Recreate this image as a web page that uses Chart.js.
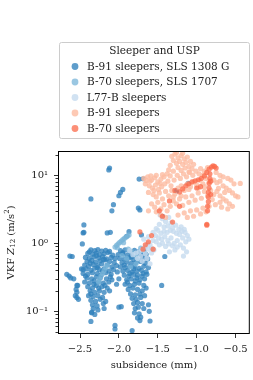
<!DOCTYPE html>
<html>
<head>
<meta charset="utf-8">
<script src="https://cdn.jsdelivr.net/npm/chart.js@4/dist/chart.umd.min.js"></script>
<style>
  html, body { margin: 0; padding: 0; background: #fff; }
</style>
</head>
<body>
<canvas id="myChart" width="253" height="380"></canvas>
<script>
const seriesLabels = [
  "B-91 sleepers, SLS 1308 G",
  "B-70 sleepers, SLS 1707",
  "L77-B sleepers",
  "B-91 sleepers",
  "B-70 sleepers",
];
const legendTitle = "Sleeper and USP";
const xTicks = [-2.5, -2.0, -1.5, -1.0, -0.5];
const yTicks = [0.1, 1, 10];

// [subsidence (mm), VKF Z12 (m/s2)]
const b91Sls = [
  [-2.12, 12.8], [-2.13, 12.0], [-2.36, 4.5], [-1.95, 6.2], [-1.98, 5.6], [-2.00, 5.0],
  [-2.07, 3.7], [-2.09, 3.0], [-1.74, 8.8], [-1.69, 8.9], [-1.73, 3.1], [-1.75, 3.3],
  [-2.45, 1.86], [-2.45, 1.45], [-2.46, 1.42], [-2.15, 1.42], [-2.47, 0.98], [-2.11, 1.45],
  [-1.87, 1.48], [-1.90, 1.27], [-1.71, 1.33], [-2.60, 0.64], [-2.63, 0.65], [-2.67, 0.35],
  [-2.64, 0.33], [-2.62, 0.31], [-2.58, 0.30], [-2.55, 0.21], [-2.56, 0.17], [-2.53, 0.24],
  [-2.52, 0.15], [-1.45, 0.24], [-1.41, 0.64],
  [-2.36, 0.071], [-2.05, 0.062], [-2.05, 0.055], [-1.83, 0.052], [-1.73, 0.073], [-1.60, 0.072],
  [-2.00, 0.115], [-1.97, 0.117], [-2.35, 0.097], [-2.54, 0.24], [-2.54, 0.19], [-2.54, 0.16],
  [-2.48, 0.42], [-2.46, 0.41], [-1.26, 5.9], [-1.44, 2.5], [-1.11, 7.6],
  [-2.36, 0.80], [-2.31, 0.78], [-2.27, 0.81], [-2.22, 0.77], [-2.17, 0.79], [-2.12, 0.76],
  [-2.40, 0.71], [-2.34, 0.69], [-2.29, 0.72], [-2.25, 0.68], [-2.19, 0.70], [-2.14, 0.73], [-2.08, 0.67],
  [-2.43, 0.62], [-2.38, 0.60], [-2.32, 0.63], [-2.26, 0.61], [-2.21, 0.64], [-2.16, 0.59], [-2.10, 0.62], [-2.05, 0.60],
  [-2.41, 0.54], [-2.35, 0.56], [-2.30, 0.53], [-2.24, 0.55], [-2.18, 0.57], [-2.12, 0.54], [-2.06, 0.52],
  [-2.44, 0.48], [-2.39, 0.46], [-2.33, 0.49], [-2.27, 0.47], [-2.22, 0.50], [-2.15, 0.48], [-2.09, 0.45], [-2.03, 0.47],
  [-2.42, 0.42], [-2.36, 0.40], [-2.31, 0.43], [-2.25, 0.41], [-2.19, 0.42], [-2.13, 0.39], [-2.07, 0.41],
  [-2.46, 0.36], [-2.40, 0.35], [-2.34, 0.37], [-2.28, 0.36], [-2.23, 0.34], [-2.17, 0.37], [-2.10, 0.35],
  [-2.41, 0.31], [-2.35, 0.30], [-2.29, 0.32], [-2.24, 0.31], [-2.16, 0.30], [-2.11, 0.32],
  [-2.44, 0.27], [-2.38, 0.26], [-2.32, 0.28], [-2.26, 0.27], [-2.20, 0.26], [-2.13, 0.27],
  [-2.40, 0.23], [-2.34, 0.22], [-2.29, 0.24], [-2.22, 0.23], [-2.15, 0.22],
  [-2.37, 0.20], [-2.31, 0.19], [-2.25, 0.20], [-2.19, 0.19], [-2.12, 0.20],
  [-2.39, 0.17], [-2.33, 0.165], [-2.27, 0.17], [-2.21, 0.16],
  [-2.36, 0.145], [-2.30, 0.14], [-2.24, 0.15], [-2.17, 0.14],
  [-2.34, 0.125], [-2.28, 0.12], [-2.20, 0.13],
  [-2.33, 0.11], [-2.27, 0.105], [-2.19, 0.11],
  [-2.35, 0.095], [-2.31, 0.09],
  [-2.38, 0.75], [-2.29, 0.66], [-2.20, 0.58], [-2.37, 0.51], [-2.28, 0.44], [-2.21, 0.39],
  [-2.43, 0.33], [-2.32, 0.25], [-2.26, 0.22], [-2.36, 0.18], [-2.18, 0.24], [-2.09, 0.29],
  [-2.02, 0.38], [-2.00, 0.30], [-2.03, 0.25],
  [-1.98, 0.78], [-1.92, 0.80], [-1.86, 0.77], [-1.80, 0.79], [-1.74, 0.76], [-1.68, 0.78],
  [-2.01, 0.68], [-1.95, 0.70], [-1.89, 0.67], [-1.83, 0.69], [-1.77, 0.68], [-1.71, 0.66], [-1.65, 0.69],
  [-1.99, 0.60], [-1.93, 0.59], [-1.87, 0.61], [-1.81, 0.58], [-1.75, 0.60], [-1.69, 0.61], [-1.63, 0.59],
  [-1.96, 0.52], [-1.90, 0.53], [-1.84, 0.51], [-1.78, 0.52], [-1.72, 0.54], [-1.66, 0.51],
  [-1.98, 0.45], [-1.92, 0.44], [-1.86, 0.46], [-1.80, 0.45], [-1.74, 0.43], [-1.68, 0.46], [-1.62, 0.44],
  [-1.95, 0.39], [-1.89, 0.40], [-1.83, 0.38], [-1.77, 0.39], [-1.71, 0.40], [-1.65, 0.38],
  [-1.93, 0.34], [-1.87, 0.33], [-1.81, 0.35], [-1.76, 0.34], [-1.70, 0.33], [-1.64, 0.35],
  [-1.90, 0.29], [-1.84, 0.30], [-1.79, 0.28], [-1.73, 0.29], [-1.67, 0.30],
  [-1.92, 0.25], [-1.86, 0.24], [-1.80, 0.25], [-1.74, 0.26], [-1.68, 0.24],
  [-1.88, 0.21], [-1.82, 0.22], [-1.76, 0.21], [-1.70, 0.20], [-1.65, 0.22],
  [-1.85, 0.18], [-1.79, 0.175], [-1.73, 0.18], [-1.67, 0.17],
  [-1.83, 0.155], [-1.78, 0.15], [-1.72, 0.16],
  [-1.81, 0.13], [-1.76, 0.135], [-1.70, 0.13], [-1.62, 0.125],
  [-1.79, 0.11], [-1.75, 0.115], [-1.68, 0.11],
  [-1.80, 0.095], [-1.74, 0.092], [-1.61, 0.10],
  [-1.76, 0.08], [-1.72, 0.082],
  [-1.95, 0.73], [-1.84, 0.63], [-1.72, 0.71], [-1.93, 0.48], [-1.81, 0.42], [-1.69, 0.36],
  [-1.86, 0.36], [-1.77, 0.31], [-1.89, 0.27],
];

const b70Sls = [
  [-2.05, 0.88], [-2.03, 0.93], [-2.01, 0.98], [-1.99, 1.03], [-1.97, 1.08], [-1.95, 1.13],
  [-1.93, 1.18], [-1.91, 1.23], [-1.89, 1.28], [-1.87, 1.33], [-2.02, 0.86], [-1.94, 1.02],
  [-2.26, 0.27], [-2.25, 0.30], [-2.23, 0.33], [-2.21, 0.36], [-2.19, 0.40], [-2.17, 0.44], [-2.15, 0.48],
  [-1.88, 0.82], [-1.84, 0.76], [-1.80, 0.70], [-1.77, 0.63], [-1.74, 0.58], [-1.90, 0.60],
  [-1.72, 0.85], [-1.68, 0.78], [-1.85, 0.45], [-1.78, 0.50], [-1.96, 0.66],
];

const l77b = [
  [-1.47, 2.6], [-1.44, 2.3], [-1.40, 2.1], [-1.36, 2.4], [-1.33, 2.0], [-1.48, 1.9],
  [-1.42, 1.75], [-1.37, 1.8], [-1.31, 1.7], [-1.27, 1.85], [-1.23, 1.6], [-1.19, 1.5],
  [-1.15, 1.45], [-1.12, 1.3], [-1.10, 1.15], [-1.14, 1.05], [-1.18, 1.2], [-1.22, 1.35],
  [-1.26, 1.4], [-1.30, 1.5], [-1.34, 1.55], [-1.38, 1.45], [-1.42, 1.5], [-1.46, 1.4],
  [-1.50, 1.55], [-1.53, 1.3], [-1.49, 1.2], [-1.45, 1.15], [-1.41, 1.25], [-1.37, 1.1],
  [-1.33, 1.2], [-1.29, 1.0], [-1.25, 1.1], [-1.21, 0.95], [-1.17, 0.85], [-1.13, 0.75],
  [-1.25, 0.88], [-1.31, 0.92], [-1.36, 0.98], [-1.40, 0.9], [-1.44, 1.0], [-1.48, 0.95],
  [-1.52, 1.05], [-1.56, 1.1], [-1.60, 0.95], [-1.63, 1.0], [-1.58, 0.85], [-1.55, 0.8],
  [-1.62, 0.82], [-1.66, 0.88], [-1.70, 0.8], [-1.74, 0.75], [-1.78, 0.72], [-1.82, 0.68],
  [-1.86, 0.78], [-1.72, 0.65], [-1.66, 0.7], [-1.58, 0.72], [-1.17, 0.65], [-1.35, 0.75],
  [-1.28, 0.8], [-1.20, 1.75], [-1.16, 1.6], [-1.52, 1.65], [-1.56, 1.45],
  [-1.64, 0.6], [-1.70, 0.55], [-1.60, 0.5], [-1.76, 0.6], [-1.68, 1.15], [-1.62, 1.25],
];

const b91 = [
  [-1.32, 19], [-1.28, 20.5], [-1.24, 18], [-1.20, 19.5], [-1.16, 17.5], [-1.12, 18.5],
  [-1.08, 16], [-1.30, 16.5], [-1.26, 15], [-1.22, 16], [-1.18, 14.5], [-1.14, 15.5],
  [-1.10, 13.5], [-1.34, 14], [-1.04, 14.5], [-1.06, 12.5], [-1.15, 12.8], [-1.24, 13], [-1.36, 12],
  [-1.26, 21.5], [-1.18, 21], [-1.30, 11.5], [-1.20, 11.8], [-1.10, 11.2],
  [-1.68, 9.0], [-1.63, 9.5], [-1.58, 8.5], [-1.54, 9.2], [-1.50, 8.0], [-1.46, 8.8],
  [-1.42, 9.5], [-1.38, 10.5], [-1.34, 9.8], [-1.66, 7.5], [-1.61, 7.0], [-1.57, 6.5],
  [-1.53, 7.2], [-1.49, 6.2], [-1.45, 6.8], [-1.41, 7.5], [-1.37, 8.2], [-1.33, 7.0],
  [-1.29, 8.5], [-1.25, 10.0], [-1.21, 9.0], [-1.17, 10.5], [-1.13, 9.5], [-1.09, 11],
  [-1.05, 10], [-1.01, 11.5], [-0.97, 10.5],
  [-1.56, 5.2], [-1.52, 4.8], [-1.48, 5.5], [-1.44, 4.5], [-1.40, 5.8], [-1.36, 5.0],
  [-1.32, 6.0], [-1.28, 5.3], [-1.24, 6.5], [-1.20, 7.0], [-1.16, 6.0], [-1.12, 7.5],
  [-1.08, 6.8], [-1.04, 8.0], [-1.00, 7.2], [-0.96, 8.5], [-0.92, 7.5], [-0.88, 9.0],
  [-0.84, 8.0], [-0.78, 8.5], [-0.74, 7.8], [-0.70, 8.2], [-0.66, 7.0], [-0.62, 6.5],
  [-0.58, 6.0], [-0.54, 5.5], [-0.50, 5.0], [-0.47, 4.8], [-0.44, 7.6],
  [-1.58, 3.8], [-1.54, 3.4], [-1.50, 4.0], [-1.46, 3.2], [-1.42, 3.7], [-1.38, 3.0],
  [-1.34, 3.5], [-1.30, 4.2], [-1.26, 3.8], [-1.22, 4.5], [-1.18, 3.6], [-1.14, 4.8],
  [-1.10, 4.0], [-1.06, 5.0], [-1.02, 4.3], [-0.98, 5.5], [-0.94, 4.6], [-0.90, 5.8],
  [-0.86, 5.0], [-0.82, 6.0], [-0.78, 5.2], [-0.74, 5.8], [-0.70, 5.0], [-0.66, 4.5],
  [-0.62, 4.2], [-0.58, 3.8], [-0.54, 3.5], [-0.60, 3.2], [-0.68, 3.4], [-0.76, 3.7],
  [-0.84, 3.5], [-0.92, 3.3], [-1.00, 3.1], [-1.08, 3.0], [-1.16, 2.8], [-1.24, 2.6],
  [-0.95, 2.7], [-0.88, 2.9], [-1.04, 2.5], [-1.12, 2.4], [-1.46, 2.6], [-1.40, 2.4],
  [-1.52, 2.9], [-1.62, 3.0],
  [-0.95, 12.5], [-0.90, 11.5], [-0.86, 13], [-0.92, 10], [-0.75, 11], [-0.70, 10],
  [-0.66, 9.5], [-0.60, 9], [-0.56, 8.5], [-0.52, 7.5],
  [-1.10, 6.2], [-0.98, 6.5], [-0.90, 6.8], [-0.72, 6.4], [-0.64, 5.6], [-1.20, 5.0],
  [-1.30, 4.8], [-0.80, 4.4], [-0.70, 4.0], [-1.60, 8.2], [-1.44, 10.2],
  [-1.65, 8.4], [-1.59, 9.8], [-1.52, 10.0], [-1.47, 7.6], [-1.55, 6.0], [-1.62, 5.6],
];

const b70 = [
  [-1.22, 5.7], [-1.18, 6.3], [-1.14, 7.0], [-1.10, 7.5], [-1.06, 8.0], [-1.02, 8.3],
  [-0.98, 8.6], [-0.94, 9.0], [-0.90, 9.8], [-0.87, 11], [-0.84, 12.3], [-0.81, 13.2],
  [-0.79, 13.8], [-0.77, 13.5], [-0.75, 12.8], [-0.83, 10.5], [-0.83, 9.0], [-0.84, 7.6],
  [-0.84, 6.5], [-0.85, 5.6], [-0.85, 4.8], [-0.85, 4.1], [-0.86, 3.5], [-0.86, 3.0],
  [-0.82, 8.2], [-0.82, 5.2], [-0.87, 1.9], [-0.87, 1.85], [-1.28, 6.0], [-1.31, 2.05],
  [-1.44, 2.5], [-1.22, 3.5], [-1.73, 1.47], [-1.69, 0.82], [-1.56, 0.82], [-1.62, 1.05],
  [-1.58, 1.3], [-1.66, 0.95], [-1.48, 3.0], [-1.0, 6.5], [-0.95, 6.8], [-1.35, 4.2],
];

const seriesData = [b91Sls, b70Sls, l77b, b91, b70];
const seriesColors = [
  "rgba(49, 130, 189, 0.78)",
  "rgba(120, 180, 216, 0.75)",
  "rgba(198, 219, 239, 0.8)",
  "rgba(252, 187, 161, 0.8)",
  "rgba(251, 106, 74, 0.75)",
];

const serif = '"DejaVu Serif", "Liberation Serif", serif';
const textColor = "#222";

function fmtX(v) {
  return (v < 0 ? "\u2212" : "") + Math.abs(v).toFixed(1);
}

function fmtY(v) {
  const e = Math.round(Math.log10(v));
  const sup = { "-": "\u207B", "0": "\u2070", "1": "\u00B9", "2": "\u00B2" };
  return "10" + String(e).split("").map((c) => sup[c]).join("");
}

// frame, minor ticks, axis titles and the boxed legend
const extras = {
  id: "extras",
  afterDraw(chart) {
    const ctx = chart.ctx;
    const a = chart.chartArea;
    const ys = chart.scales.y;
    ctx.save();

    ctx.strokeStyle = "#000";
    ctx.lineWidth = 1;
    ctx.strokeRect(a.left - 0.5, a.top - 0.5, a.right - a.left + 1, a.bottom - a.top + 1);

    // minor log ticks
    ctx.lineWidth = 0.8;
    ctx.beginPath();
    for (let e = -2; e <= 1; e++) {
      for (let m = 2; m <= 9; m++) {
        const v = m * Math.pow(10, e);
        if (v < ys.min || v > ys.max) continue;
        const py = Math.round(ys.getPixelForValue(v)) + 0.5;
        ctx.moveTo(a.left - 3.5, py);
        ctx.lineTo(a.left, py);
      }
    }
    ctx.stroke();

    // x title
    ctx.fillStyle = textColor;
    ctx.font = "10px " + serif;
    ctx.textAlign = "center";
    ctx.textBaseline = "middle";
    ctx.fillText("subsidence (mm)", (a.left + a.right) / 2, 365);

    // y title with italic Z and sub/superscripts
    const parts = [
      { t: "VKF ", f: "10px " + serif, dy: 0 },
      { t: "Z", f: "italic 10px " + serif, dy: 0 },
      { t: "12", f: "7px " + serif, dy: 2 },
      { t: " (m/s", f: "10px " + serif, dy: 0 },
      { t: "2", f: "7px " + serif, dy: -4 },
      { t: ")", f: "10px " + serif, dy: 0 },
    ];
    let total = 0;
    parts.forEach((p) => {
      ctx.font = p.f;
      p.w = ctx.measureText(p.t).width;
      total += p.w;
    });
    ctx.translate(11, (a.top + a.bottom) / 2);
    ctx.rotate(-Math.PI / 2);
    ctx.textAlign = "left";
    let px = -total / 2;
    parts.forEach((p) => {
      ctx.font = p.f;
      ctx.fillText(p.t, px, p.dy);
      px += p.w;
    });
    ctx.setTransform(1, 0, 0, 1, 0, 0);

    // legend box
    const lx = 59.5, ly = 42.5, lw = 190, lh = 96;
    ctx.strokeStyle = "#cccccc";
    ctx.fillStyle = "rgba(255,255,255,0.8)";
    ctx.lineWidth = 1;
    ctx.beginPath();
    ctx.roundRect(lx, ly, lw, lh, 2);
    ctx.fill();
    ctx.stroke();

    ctx.fillStyle = textColor;
    ctx.font = "10.5px " + serif;
    ctx.textAlign = "center";
    ctx.fillText(legendTitle, lx + lw / 2, 51);
    ctx.textAlign = "left";
    chart.data.datasets.forEach((ds, i) => {
      const cy = 66.5 + i * 15.5;
      ctx.fillStyle = ds.backgroundColor;
      ctx.beginPath();
      ctx.arc(75, cy, 3.4, 0, Math.PI * 2);
      ctx.fill();
      ctx.fillStyle = textColor;
      ctx.fillText(ds.label, 87, cy + 0.5);
    });
    ctx.restore();
  },
};

const ctx = document.getElementById("myChart").getContext("2d");
const myChart = new Chart(ctx, {
  type: "scatter",
  data: {
    datasets: seriesLabels.map((label, i) => ({
      label,
      data: seriesData[i].map(([x, y]) => ({ x, y })),
      backgroundColor: seriesColors[i],
      borderWidth: 0,
      pointRadius: 2.6,
      order: seriesLabels.length - i,
    })),
  },
  options: {
    responsive: false,
    animation: false,
    layout: { padding: { top: 152, right: 4, left: 0, bottom: 0 } },
    plugins: { legend: { display: false }, tooltip: { enabled: false } },
    scales: {
      x: {
        type: "linear",
        min: -2.77,
        max: -0.33,
        afterFit: (s) => { s.height = 47; },
        afterBuildTicks: (s) => { s.ticks = xTicks.map((v) => ({ value: v })); },
        ticks: {
          padding: 5,
          color: textColor,
          font: { family: serif, size: 10 },
          callback: (v) => fmtX(v),
          maxRotation: 0,
        },
        grid: { drawOnChartArea: false, tickLength: 5, tickColor: "#000", tickWidth: 0.8 },
        border: { display: false },
      },
      y: {
        type: "logarithmic",
        min: 0.048,
        max: 22,
        afterFit: (s) => { s.width = 59; },
        afterBuildTicks: (s) => { s.ticks = yTicks.map((v) => ({ value: v })); },
        ticks: {
          padding: 6,
          color: textColor,
          font: { family: serif, size: 10 },
          callback: (v) => fmtY(v),
        },
        grid: { drawOnChartArea: false, tickLength: 5, tickColor: "#000", tickWidth: 0.8 },
        border: { display: false },
      },
    },
  },
  plugins: [extras],
});
</script>
</body>
</html>
